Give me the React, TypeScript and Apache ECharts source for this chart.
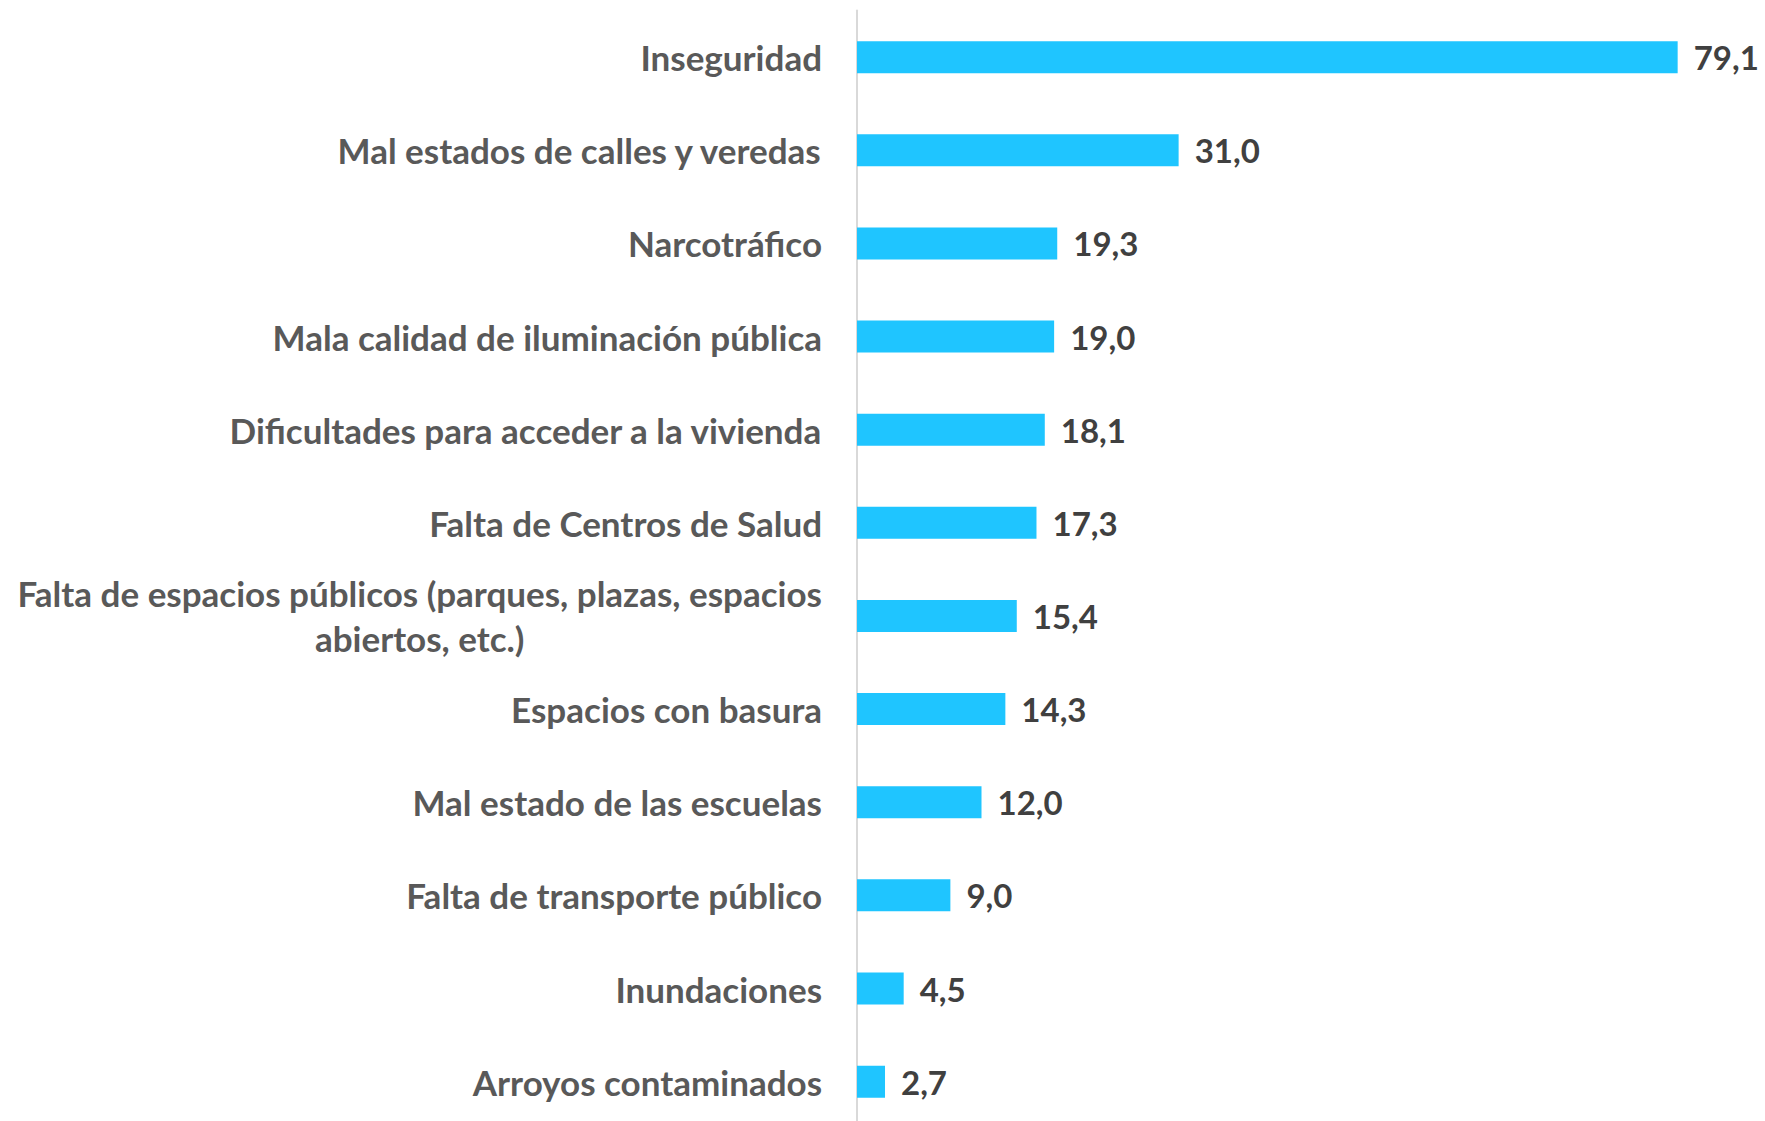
import React, { useEffect, useRef } from "react";
import * as echarts from "echarts";

const categories = [
  "Inseguridad",
  "Mal estados de calles y veredas",
  "Narcotráfico",
  "Mala calidad de iluminación pública",
  "Dificultades para acceder a la vivienda",
  "Falta de Centros de Salud",
  "Falta de espacios públicos (parques, plazas, espacios\nabiertos, etc.)",
  "Espacios con basura",
  "Mal estado de las escuelas",
  "Falta de transporte público",
  "Inundaciones",
  "Arroyos contaminados",
];
const values = [79.1, 31.0, 19.3, 19.0, 18.1, 17.3, 15.4, 14.3, 12.0, 9.0, 4.5, 2.7];

const FONT = "Lato";

export default function App() {
  const ref = useRef<HTMLDivElement>(null);
  useEffect(() => {
    document.body.style.margin = "0";
    document.body.style.overflow = "hidden";
    const chart = echarts.init(ref.current!, null, { renderer: "svg" });
    chart.setOption({
      animation: false,
      grid: {
        left: 857,
        top: 10.6,
        width: 830,
        height: 1117.6,
        containLabel: false,
        outerBoundsMode: "none",
      },
      xAxis: {
        type: "value",
        min: 0,
        max: 80,
        show: false,
      },
      yAxis: {
        type: "category",
        data: categories,
        inverse: true,
        axisLine: { show: true, lineStyle: { color: "#D9D9D9", width: 2 } },
        axisTick: { show: false },
        splitLine: { show: false },
        axisLabel: {
          margin: 35,
          fontFamily: FONT,
          fontWeight: "bold",
          fontSize: 35,
          color: "#595959",
          lineHeight: 45,
          formatter: (v: string) =>
            v
              .split("\n")
              .map((l) => "{a|" + l + "}")
              .join("\n"),
          rich: {
            a: {
              align: "center",
              fontFamily: FONT,
              fontWeight: "bold",
              fontSize: 35,
              color: "#595959",
              lineHeight: 45,
            },
          },
        },
      },
      series: [
        {
          type: "bar",
          data: values,
          barWidth: 32,
          itemStyle: { color: "#1FC5FF" },
          label: {
            show: true,
            position: "right",
            distance: 16,
            fontFamily: FONT,
            fontWeight: "bold",
            fontSize: 33,
            color: "#404040",
            formatter: (p: any) => p.value.toFixed(1).replace(".", ","),
          },
        },
      ],
    });
    return () => chart.dispose();
  }, []);
  return (
    <div
      ref={ref}
      style={{ position: "fixed", left: 0, top: 0, width: 1765, height: 1140, background: "#fff" }}
    />
  );
}
